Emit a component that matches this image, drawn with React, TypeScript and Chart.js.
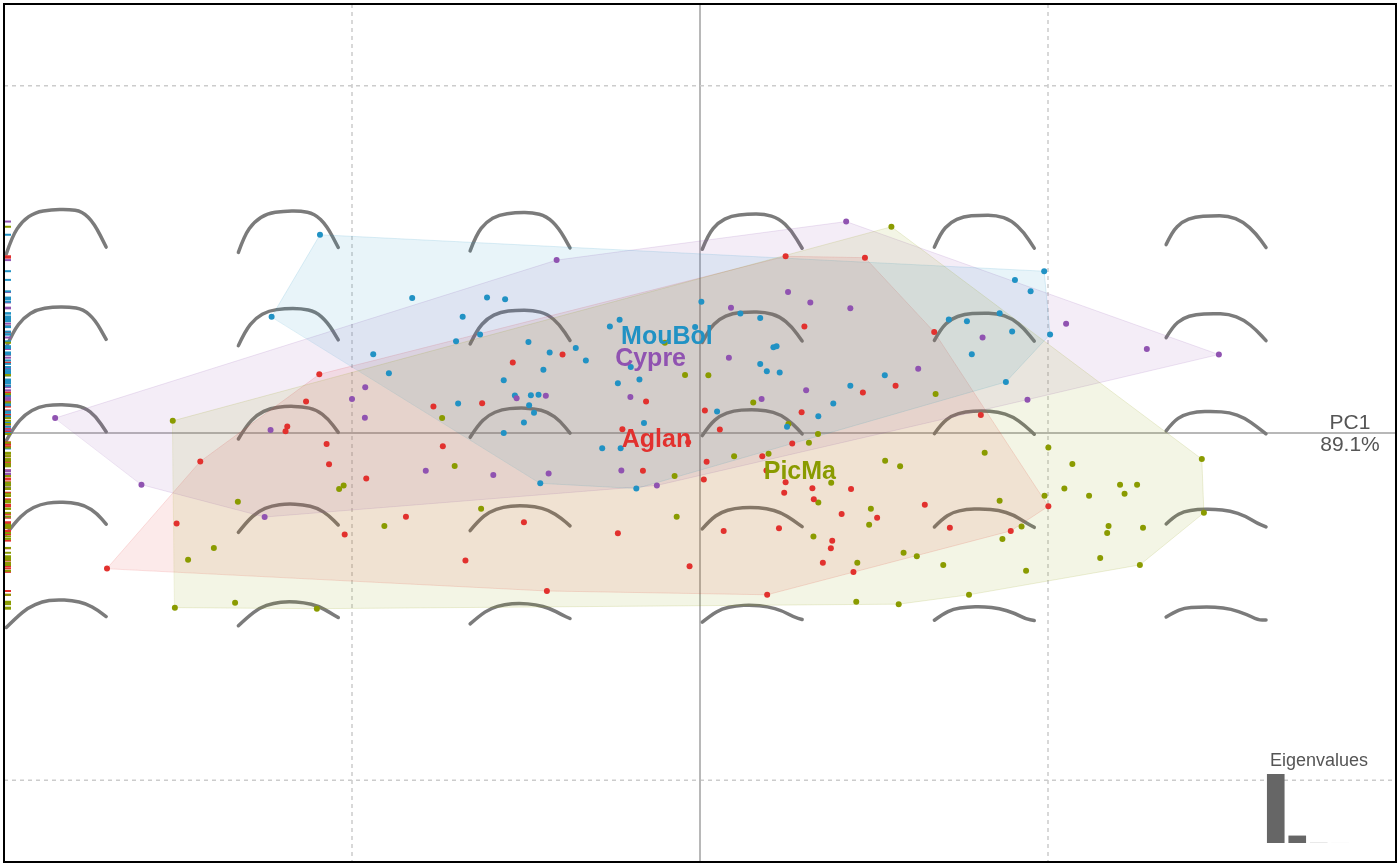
import React, { useEffect, useRef } from 'react';
import { Chart, registerables } from 'chart.js';

Chart.register(...registerables);

const FONT = '"Liberation Sans", Arial, Helvetica, sans-serif';

// groups and their colours
const GROUPS = ['Aglan', 'Cypre', 'MouBol', 'PicMa'];
const GROUP_COLORS = ['#E2312E', '#9053B1', '#2192C4', '#8A9B00'];

// PCA scores [PC1, PC2] per group (one grid step = 1)
const aglanScores: [number, number][] = [
  [-1.094, 0.169], [-1.132, 0.091], [-1.186, 0.019], [-1.191, 0.005], [-1.073, -0.032],
  [-1.436, -0.082], [-1.066, -0.09], [-1.504, -0.261], [-1.021, -0.292], [-1.704, -0.39],
  [-0.395, 0.226], [-0.538, 0.203], [-0.766, 0.076], [-0.626, 0.086], [-0.155, 0.091],
  [-0.223, 0.011], [-0.739, -0.038], [-0.959, -0.131], [-0.845, -0.241], [-0.506, -0.257],
  [-0.674, -0.367], [-0.44, -0.455], [-0.236, -0.289], [-0.034, -0.027], [-0.164, -0.109],
  [0.014, 0.065], [0.057, 0.01], [0.019, -0.083], [0.011, -0.134], [0.246, 0.509],
  [0.474, 0.505], [0.3, 0.307], [0.673, 0.291], [0.468, 0.117], [0.562, 0.136],
  [0.292, 0.06], [0.807, 0.052], [0.265, -0.03], [0.179, -0.067], [0.191, -0.108],
  [0.246, -0.142], [0.242, -0.172], [0.323, -0.159], [0.327, -0.191], [0.434, -0.161],
  [1.001, -0.211], [0.646, -0.207], [0.407, -0.233], [0.509, -0.244], [0.068, -0.282],
  [0.227, -0.274], [0.38, -0.31], [0.376, -0.332], [0.718, -0.273], [0.893, -0.282],
  [0.353, -0.374], [0.441, -0.4], [0.193, -0.466], [-0.03, -0.384],
];

const cypreScores: [number, number][] = [
  [-0.412, 0.498], [-1.0, 0.098], [-1.853, 0.043], [-1.234, 0.009], [-1.605, -0.149],
  [-1.251, -0.242], [-0.962, 0.132], [-0.963, 0.044], [-0.527, 0.1], [-0.443, 0.107],
  [-0.2, 0.104], [-0.788, -0.109], [-0.594, -0.121], [-0.435, -0.117], [-0.226, -0.108],
  [-0.124, -0.151], [0.42, 0.609], [0.253, 0.406], [0.317, 0.376], [0.432, 0.359],
  [0.089, 0.361], [0.812, 0.275], [0.083, 0.217], [0.627, 0.185], [0.305, 0.123],
  [0.177, 0.098], [0.941, 0.096], [1.052, 0.315], [1.284, 0.242], [1.491, 0.226],
];

const mouBolScores: [number, number][] = [
  [-1.092, 0.571], [-1.231, 0.335], [-0.827, 0.389], [-0.612, 0.39], [-0.56, 0.385],
  [-0.682, 0.335], [-0.632, 0.284], [-0.701, 0.264], [-0.259, 0.307], [-0.231, 0.326],
  [-0.014, 0.305], [-0.493, 0.262], [-0.357, 0.245], [-0.432, 0.232], [-0.328, 0.209],
  [-0.939, 0.227], [-0.45, 0.182], [-0.894, 0.172], [-0.199, 0.19], [-0.564, 0.152],
  [-0.236, 0.143], [-0.174, 0.154], [-0.532, 0.108], [-0.486, 0.109], [-0.464, 0.11],
  [-0.491, 0.08], [-0.477, 0.058], [-0.695, 0.085], [-0.506, 0.03], [-0.161, 0.029],
  [-0.564, 0.0], [-0.281, -0.044], [-0.228, -0.044], [-0.459, -0.145], [-0.183, -0.16],
  [0.004, 0.378], [0.116, 0.344], [0.173, 0.331], [0.989, 0.466], [0.905, 0.441],
  [0.95, 0.408], [0.715, 0.327], [0.767, 0.322], [0.861, 0.345], [0.897, 0.292],
  [1.006, 0.284], [0.211, 0.247], [0.22, 0.25], [0.781, 0.227], [0.173, 0.199],
  [0.192, 0.178], [0.229, 0.174], [0.531, 0.166], [0.432, 0.136], [0.879, 0.147],
  [0.383, 0.085], [0.049, 0.062], [0.34, 0.048], [0.25, 0.018],
];

const picMaScores: [number, number][] = [
  [-1.515, 0.035], [-1.037, -0.161], [-1.024, -0.151], [-1.328, -0.198], [-1.397, -0.331],
  [-1.471, -0.365], [-1.336, -0.489], [-1.509, -0.503], [-1.101, -0.506], [-0.101, 0.26],
  [-0.043, 0.167], [-0.741, 0.043], [-0.705, -0.095], [-0.073, -0.124], [-0.629, -0.218],
  [-0.907, -0.268], [-0.067, -0.241], [0.024, 0.166], [0.098, -0.067], [0.55, 0.594],
  [0.677, 0.112], [0.153, 0.088], [0.254, 0.026], [0.339, -0.003], [0.313, -0.028],
  [0.197, -0.06], [0.377, -0.143], [0.34, -0.2], [0.532, -0.08], [0.575, -0.096],
  [0.818, -0.057], [1.001, -0.042], [0.99, -0.181], [0.861, -0.195], [0.491, -0.218],
  [0.486, -0.264], [0.326, -0.298], [0.924, -0.269], [0.869, -0.305], [0.585, -0.345],
  [0.623, -0.355], [0.452, -0.374], [0.699, -0.38], [0.937, -0.397], [0.773, -0.466],
  [0.449, -0.486], [0.571, -0.493], [1.442, -0.075], [1.07, -0.089], [1.047, -0.16],
  [1.118, -0.181], [1.207, -0.149], [1.256, -0.149], [1.22, -0.175], [1.448, -0.23],
  [1.174, -0.268], [1.17, -0.288], [1.273, -0.273], [1.15, -0.36], [1.264, -0.38],
];

const GROUP_SCORES = [aglanScores, cypreScores, mouBolScores, picMaScores];

// where the group names sit (text baseline centre)
const LABEL_POS: [number, number][] = [[-0.125, -0.04], [-0.142, 0.193], [-0.095, 0.256], [0.287, -0.132]];

// axes
const X_RANGE = [-2, 2];
const Y_RANGE = [-1.2356, 1.2356];
const GRID_TICKS = [-1, 0, 1];

// eigenvalues (% of variance)
const EIGEN_LABELS = ['PC1', 'PC2', 'PC3', 'PC4'];
const EIGEN_VALUES = [89.1, 9.6, 1.0, 0.3];
const EIGEN_COLORS = ['#666666', '#666666', '#e3e3e3', '#efefef'];

// morphospace: grid of reconstructed shapes
const MORPHO_X = [-1.85, -1.183, -0.517, 0.15, 0.817, 1.483];
const MORPHO_Y = [0.58, 0.305, 0.03, -0.245, -0.52];
const SHAPE_W = 0.287;
// corner shapes (normalised, y up): min/max PC1 x max/min PC2
const SHAPE_TL = [[0, 0], [0.06, 0.18], [0.16, 0.33], [0.29, 0.42], [0.45, 0.445], [0.62, 0.45], [0.76, 0.43], [0.88, 0.31], [1.0, 0.07]];
const SHAPE_TR = [[0, 0], [0.06, 0.13], [0.16, 0.23], [0.29, 0.28], [0.45, 0.29], [0.62, 0.29], [0.77, 0.23], [0.9, 0.11], [1.0, -0.03]];
const SHAPE_BL = [[0, 0], [0.1, 0.1], [0.22, 0.2], [0.36, 0.26], [0.5, 0.28], [0.66, 0.27], [0.8, 0.24], [0.92, 0.17], [1.0, 0.11]];
const SHAPE_BR = [[0, 0], [0.08, 0.05], [0.18, 0.09], [0.32, 0.1], [0.49, 0.1], [0.65, 0.08], [0.8, 0.03], [0.92, -0.03], [1.0, -0.03]];

const alpha = (hex: string, a: number) => {
  const n = parseInt(hex.slice(1), 16);
  return `rgba(${(n >> 16) & 255},${(n >> 8) & 255},${n & 255},${a})`;
};

const convexHull = (pts: number[][]) => {
  const p = [...pts].sort((a, b) => a[0] - b[0] || a[1] - b[1]);
  const cross = (o: number[], a: number[], b: number[]) => (a[0] - o[0]) * (b[1] - o[1]) - (a[1] - o[1]) * (b[0] - o[0]);
  const lower: number[][] = [];
  for (const q of p) {
    while (lower.length >= 2 && cross(lower[lower.length - 2], lower[lower.length - 1], q) <= 0) lower.pop();
    lower.push(q);
  }
  const upper: number[][] = [];
  for (let i = p.length - 1; i >= 0; i--) {
    const q = p[i];
    while (upper.length >= 2 && cross(upper[upper.length - 2], upper[upper.length - 1], q) <= 0) upper.pop();
    upper.push(q);
  }
  return lower.slice(0, -1).concat(upper.slice(0, -1));
};

const shapeAt = (c: number, r: number) => {
  const u = c / (MORPHO_X.length - 1);
  const v = r / (MORPHO_Y.length - 1);
  return SHAPE_TL.map((_, k) => {
    const mix = (i: number) =>
      (1 - u) * (1 - v) * SHAPE_TL[k][i] + u * (1 - v) * SHAPE_TR[k][i] +
      (1 - u) * v * SHAPE_BL[k][i] + u * v * SHAPE_BR[k][i];
    return [mix(0), mix(1)];
  });
};

const pcaLayers = {
  id: 'pcaLayers',
  beforeDatasetsDraw(chart: any) {
    const { ctx, chartArea: a, scales: { x, y } } = chart;
    ctx.save();
    ctx.beginPath();
    ctx.rect(a.left, a.top, a.width, a.height);
    ctx.clip();

    // grid + axes
    GRID_TICKS.forEach((t) => {
      const axis = t === 0;
      ctx.setLineDash(axis ? [] : [4, 4]);
      ctx.strokeStyle = axis ? '#b8b8b8' : '#cccccc';
      ctx.lineWidth = axis ? 2 : 1.5;
      const px = x.getPixelForValue(t);
      const py = y.getPixelForValue(t);
      ctx.beginPath();
      ctx.moveTo(px, a.top);
      ctx.lineTo(px, a.bottom);
      ctx.moveTo(a.left, py);
      ctx.lineTo(a.right, py);
      ctx.stroke();
    });
    ctx.setLineDash([]);

    // morphospace
    ctx.strokeStyle = '#7b7b7b';
    ctx.lineWidth = 3.5;
    ctx.lineCap = 'round';
    ctx.lineJoin = 'round';
    MORPHO_X.forEach((cx, c) => {
      MORPHO_Y.forEach((cy, r) => {
        const s = shapeAt(c, r);
        const xs = s.map((q) => q[0]);
        const ys = s.map((q) => q[1]);
        const bx = (Math.min(...xs) + Math.max(...xs)) / 2;
        const by = (Math.min(...ys) + Math.max(...ys)) / 2;
        const pts = s.map((q) => [
          x.getPixelForValue(cx + (q[0] - bx) * SHAPE_W),
          y.getPixelForValue(cy + (q[1] - by) * SHAPE_W),
        ]);
        ctx.beginPath();
        ctx.moveTo(pts[0][0], pts[0][1]);
        for (let k = 1; k < pts.length - 1; k++) {
          const mx = (pts[k][0] + pts[k + 1][0]) / 2;
          const my = (pts[k][1] + pts[k + 1][1]) / 2;
          ctx.quadraticCurveTo(pts[k][0], pts[k][1], mx, my);
        }
        const last = pts[pts.length - 1];
        ctx.lineTo(last[0], last[1]);
        ctx.stroke();
      });
    });

    // filled convex hulls
    chart.data.datasets.forEach((ds: any, i: number) => {
      const pts = ds.data.map((p: any) => [x.getPixelForValue(p.x), y.getPixelForValue(p.y)]);
      const hull = convexHull(pts);
      ctx.beginPath();
      hull.forEach((h, k) => (k ? ctx.lineTo(h[0], h[1]) : ctx.moveTo(h[0], h[1])));
      ctx.closePath();
      ctx.fillStyle = alpha(GROUP_COLORS[i], 0.1);
      ctx.fill();
      ctx.strokeStyle = alpha(GROUP_COLORS[i], 0.15);
      ctx.lineWidth = 1;
      ctx.stroke();
    });
    ctx.restore();
  },
  afterDatasetsDraw(chart: any) {
    const { ctx, chartArea: a, scales: { x, y } } = chart;
    ctx.save();

    // rug on PC2
    chart.data.datasets.forEach((ds: any, i: number) => {
      ctx.strokeStyle = GROUP_COLORS[i];
      ctx.lineWidth = 2;
      ds.data.forEach((p: any) => {
        const py = y.getPixelForValue(p.y);
        ctx.beginPath();
        ctx.moveTo(a.left + 1, py);
        ctx.lineTo(a.left + 7, py);
        ctx.stroke();
      });
    });

    // group labels
    ctx.font = `bold 25px ${FONT}`;
    ctx.textAlign = 'center';
    ctx.textBaseline = 'alphabetic';
    GROUPS.forEach((g, i) => {
      ctx.fillStyle = GROUP_COLORS[i];
      ctx.fillText(g, x.getPixelForValue(LABEL_POS[i][0]), y.getPixelForValue(LABEL_POS[i][1]));
    });

    // axis name
    const y0 = y.getPixelForValue(0);
    ctx.fillStyle = '#555555';
    ctx.font = `21px ${FONT}`;
    ctx.textAlign = 'center';
    ctx.fillText('PC1', a.right - 46, y0 - 4);
    ctx.fillText(`${EIGEN_VALUES[0].toFixed(1)}%`, a.right - 46, y0 + 18);

    // eigen title
    ctx.font = `18px ${FONT}`;
    ctx.textAlign = 'center';
    ctx.fillText('Eigenvalues', a.right - 77, a.bottom - 96);

    // frame
    ctx.strokeStyle = '#000000';
    ctx.lineWidth = 2;
    ctx.strokeRect(a.left, a.top, a.width, a.height);
    ctx.restore();
  },
};

const App = () => {
  const mainRef = useRef<HTMLCanvasElement | null>(null);
  const eigenRef = useRef<HTMLCanvasElement | null>(null);

  useEffect(() => {
    document.body.style.margin = '0';
    if (!mainRef.current || !eigenRef.current) return;

    const main = new Chart(mainRef.current, {
      type: 'scatter',
      data: {
        datasets: GROUPS.map((g, i) => ({
          label: g,
          data: GROUP_SCORES[i].map(([px, py]) => ({ x: px, y: py })),
          backgroundColor: GROUP_COLORS[i],
          borderColor: GROUP_COLORS[i],
          pointRadius: 3,
          pointBorderWidth: 0,
        })),
      },
      options: {
        responsive: false,
        animation: false,
        events: [],
        layout: { padding: { left: 4, right: 4, top: 3, bottom: 3 } },
        scales: {
          x: { display: false, min: X_RANGE[0], max: X_RANGE[1] },
          y: { display: false, min: Y_RANGE[0], max: Y_RANGE[1] },
        },
        plugins: { legend: { display: false }, tooltip: { enabled: false } },
      },
      plugins: [pcaLayers],
    });

    const eigen = new Chart(eigenRef.current, {
      type: 'bar',
      data: {
        labels: EIGEN_LABELS,
        datasets: [{
          data: EIGEN_VALUES,
          backgroundColor: EIGEN_COLORS,
          borderWidth: 0,
          categoryPercentage: 1,
          barPercentage: 0.82,
        }],
      },
      options: {
        responsive: false,
        animation: false,
        events: [],
        layout: { padding: 0 },
        scales: {
          x: { display: false },
          y: { display: false, min: 0, max: Math.max(...EIGEN_VALUES) },
        },
        plugins: { legend: { display: false }, tooltip: { enabled: false } },
      },
    });

    return () => {
      main.destroy();
      eigen.destroy();
    };
  }, []);

  return (
    <div style={{ position: 'relative', width: 1400, height: 866, background: '#fff' }}>
      <canvas ref={mainRef} width={1400} height={866} style={{ position: 'absolute', left: 0, top: 0 }} />
      <canvas ref={eigenRef} width={86} height={69} style={{ position: 'absolute', left: 1265, top: 774 }} />
    </div>
  );
};

export default App;
